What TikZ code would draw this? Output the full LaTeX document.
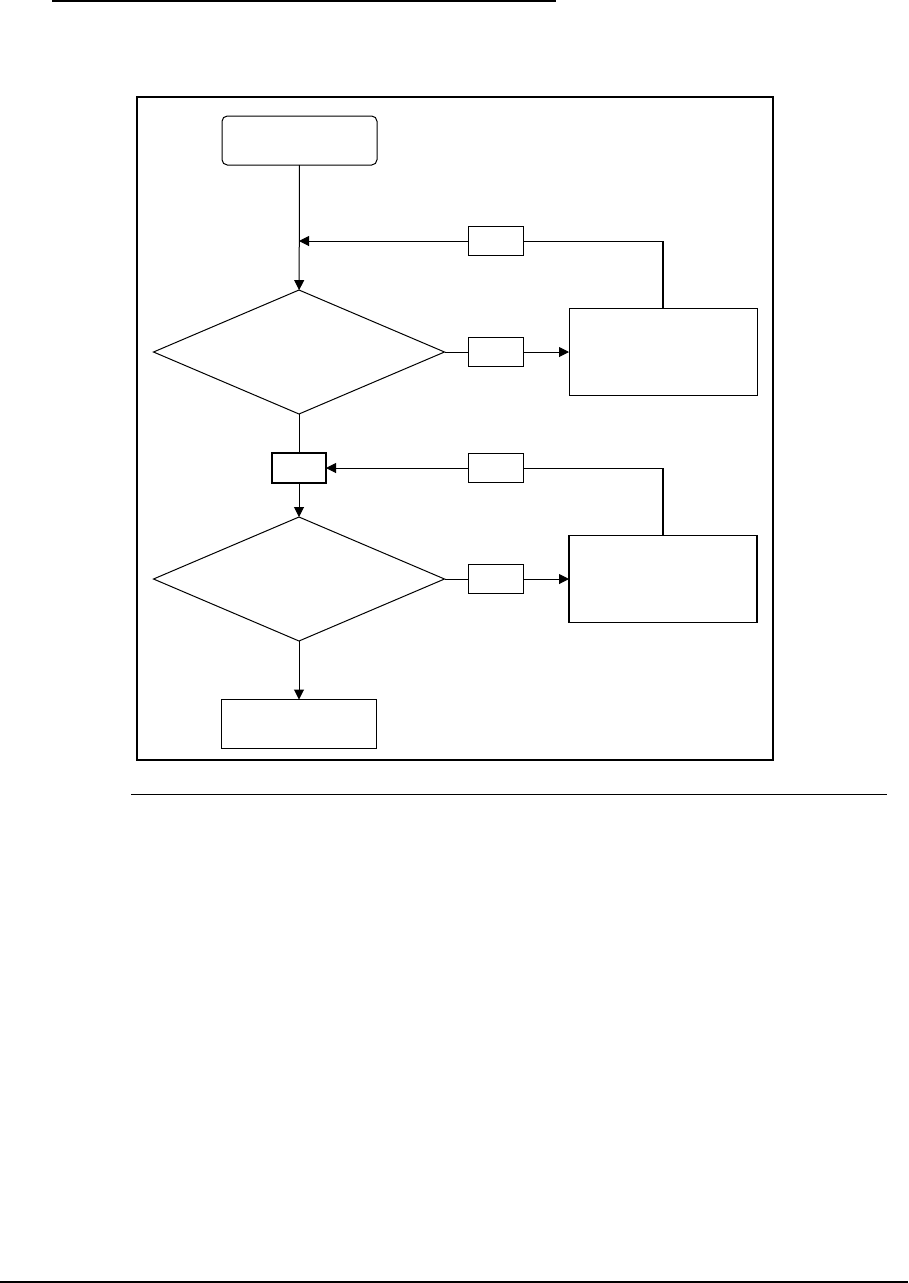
\documentclass[tikz,border=0pt]{standalone}
\usetikzlibrary{positioning, arrows.meta, shapes.geometric}

\begin{document}
\begin{tikzpicture}[
    x=0.75pt,
    y=-0.75pt,
    line width=0.75pt,
    startbox/.style={
        draw,
        rounded corners=4pt,
        outer sep=0pt,
        minimum width=116.25pt,
        minimum height=36.75pt
    },
    endbox/.style={
        draw,
        outer sep=0pt,
        minimum width=116.25pt,
        minimum height=36.75pt
    },
    check/.style={
        draw,
        diamond,
        inner sep=0pt,
        outer sep=0pt,
        minimum width=218.25pt,
        minimum height=93pt
    },
    tag/.style={
        draw,
        outer sep=0pt,
        minimum width=41.25pt,
        minimum height=22pt
    },
    fixbox/.style={
        draw,
        outer sep=0pt,
        minimum width=141pt,
        minimum height=65.25pt
    },
    arrow/.style={
        -{Triangle[length=7.5pt,width=7.5pt]}
    }
]

\useasboundingbox (0,0) rectangle (908,1283);

\draw[line width=1.5pt] (52,1) -- (556,1);
\draw[line width=1.5pt] (137,97) rectangle (773,760);
\draw (131,794) -- (887,794);
\draw[line width=1.5pt] (0,1282) -- (908,1282);

\node[startbox] (start) at (299.5,140.5) {};
\node[check] (check1) at (299,352) {};
\node[tag] (yes1) at (495.5,352) {};
\node[fixbox] (fix1) at (663,352) {};
\node[tag] (back1) at (495.5,241) {};
\coordinate (join1) at (299,241);
\coordinate (turn1) at (fix1.north |- back1.east);

\node[tag, line width=1.5pt, minimum width=40.5pt] (mid) at (299,468) {};
\node[tag] (back2) at (495.5,468) {};
\node[check] (check2) at (299,579) {};
\node[tag] (yes2) at (495.5,579) {};
\node[fixbox, line width=1.2pt] (fix2) at (663,579) {};
\node[endbox] (finish) at (299,724) {};
\coordinate (turn2) at (fix2.north |- back2.east);

\draw[arrow] (start) -- (check1);
\draw[line width=1.5pt] (fix1.north) -- (turn1);
\draw (turn1) -- (back1.east);
\draw[arrow] (back1.west) -- (join1);
\draw (check1.east) -- (yes1.west);
\draw[arrow] (yes1.east) -- (fix1.west);
\draw (check1.south) -- (mid.north);
\draw[arrow] (mid.south) -- (check2.north);
\draw[line width=1.5pt] (fix2.north) -- (turn2);
\draw (turn2) -- (back2.east);
\draw[arrow] (back2.west) -- (mid.east);
\draw (check2.east) -- (yes2.west);
\draw[arrow] (yes2.east) -- (fix2.west);
\draw[arrow] (check2.south) -- (finish.north);

\end{tikzpicture}
\end{document}
